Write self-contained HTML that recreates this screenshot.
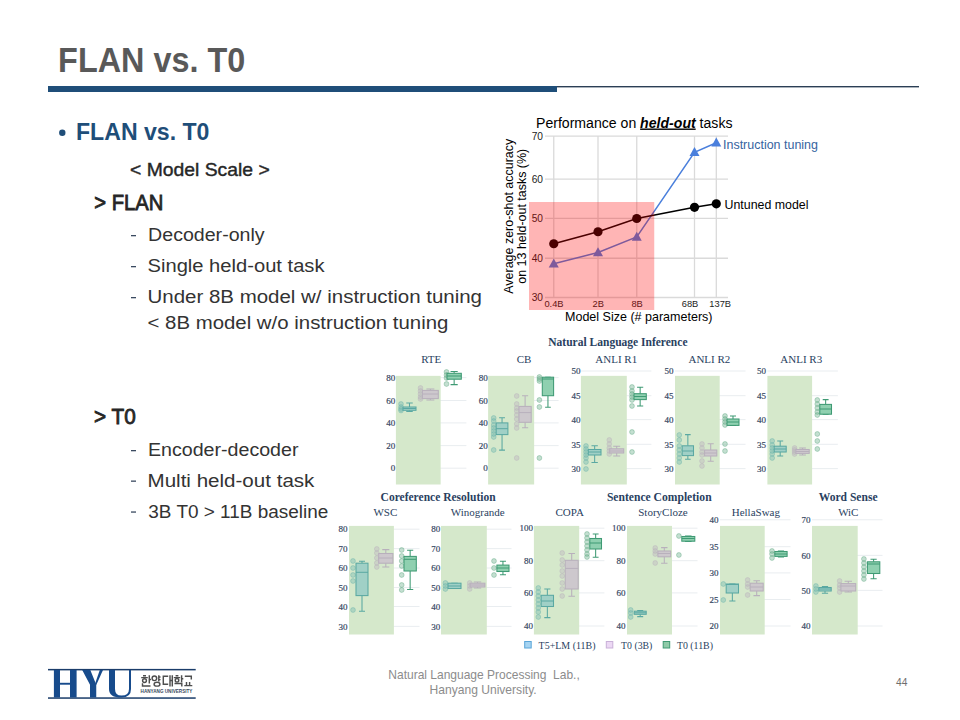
<!DOCTYPE html>
<html><head><meta charset="utf-8">
<style>
html,body{margin:0;padding:0;background:#fff;}
body{width:960px;height:720px;overflow:hidden;position:relative;}
svg{position:absolute;left:0;top:0;}
.s{font-family:"Liberation Sans",sans-serif;}
.r{font-family:"Liberation Serif",serif;}
</style></head><body>
<svg width="960" height="720" viewBox="0 0 960 720">
<!-- header -->
<!-- LEFT -->
<text class="s" x="58.10" y="71.7" font-size="35.94" font-weight="bold" fill="#595959" textLength="187.20" lengthAdjust="spacingAndGlyphs">FLAN vs. T0</text>
<text class="s" x="76.00" y="139.8" font-size="24.69" font-weight="bold" fill="#1f4e79" textLength="133.45" lengthAdjust="spacingAndGlyphs">FLAN vs. T0</text>
<text class="s" x="130.10" y="175.7" font-size="18.60" font-weight="normal" fill="#262626" stroke="#262626" stroke-width="0.4" textLength="139.60" lengthAdjust="spacingAndGlyphs">&lt; Model Scale &gt;</text>
<text class="s" x="94.30" y="209.8" font-size="22.60" font-weight="normal" fill="#262626" stroke="#262626" stroke-width="0.85" textLength="69.10" lengthAdjust="spacingAndGlyphs">&gt; FLAN</text>
<text class="s" x="148.10" y="240.7" font-size="18.90" font-weight="normal" fill="#333" textLength="116.50" lengthAdjust="spacingAndGlyphs">Decoder-only</text>
<text class="s" x="147.50" y="271.9" font-size="18.90" font-weight="normal" fill="#333" textLength="177.00" lengthAdjust="spacingAndGlyphs">Single held-out task</text>
<text class="s" x="147.50" y="302.75" font-size="18.90" font-weight="normal" fill="#333" textLength="334.50" lengthAdjust="spacingAndGlyphs">Under 8B model w/ instruction tuning</text>
<text class="s" x="147.50" y="328.75" font-size="18.90" font-weight="normal" fill="#333" textLength="300.90" lengthAdjust="spacingAndGlyphs">&lt; 8B model w/o instruction tuning</text>
<text class="s" x="94.10" y="423.75" font-size="22.60" font-weight="normal" fill="#262626" stroke="#262626" stroke-width="0.85" textLength="41.70" lengthAdjust="spacingAndGlyphs">&gt; T0</text>
<text class="s" x="147.90" y="455.6" font-size="18.90" font-weight="normal" fill="#333" textLength="150.60" lengthAdjust="spacingAndGlyphs">Encoder-decoder</text>
<text class="s" x="147.50" y="486.5" font-size="18.90" font-weight="normal" fill="#333" textLength="166.90" lengthAdjust="spacingAndGlyphs">Multi held-out task</text>
<text class="s" x="148.30" y="517.5" font-size="18.90" font-weight="normal" fill="#333" textLength="180.00" lengthAdjust="spacingAndGlyphs">3B T0 &gt; 11B baseline</text>
<!-- /LEFT -->
<rect x="48" y="86" width="509" height="6" fill="#1f4e79"/>
<rect x="557" y="86" width="362" height="1.4" fill="#2b3f55"/>

<!-- bullets -->
<circle cx="62.3" cy="132.8" r="3.2" fill="#1f4e79"/>
<g fill="#3a4a60">
<rect x="131" y="235" width="5" height="1.3"/>
<rect x="131" y="266" width="5" height="1.3"/>
<rect x="131" y="297" width="5" height="1.3"/>
<rect x="131" y="450" width="5" height="1.3"/>
<rect x="131" y="480.5" width="5" height="1.3"/>
<rect x="131" y="511.4" width="5" height="1.3"/>
</g>


<!-- FLAN chart -->
<g stroke="#dadada" stroke-width="1.3" fill="none">
<path d="M545 136.1H728M545 179.2H728M545 218.3H728M545 258.25H728M545 297.5H728"/>
<path d="M553.75 136V297.5M598 136V297.5M636.75 136V297.5M694.5 136V297.5M716.3 136V297.5"/>
</g>
<g class="s" font-size="10.2" fill="#222" text-anchor="end">
<text x="543" y="139.5">70</text><text x="543" y="182.6">60</text><text x="543" y="221.7">50</text><text x="543" y="261.6">40</text><text x="543" y="300.9">30</text>
</g>
<g class="s" font-size="9.3" fill="#222" text-anchor="middle">
<text x="554" y="307.4">0.4B</text><text x="598.3" y="307.4">2B</text><text x="637.1" y="307.4">8B</text><text x="690" y="307.4">68B</text><text x="720.2" y="307.4">137B</text>
</g>
<polyline points="553.75,263.75 598,252.5 636.75,237 694.5,152.4 716.3,142.7" fill="none" stroke="#4a7fdc" stroke-width="1.5"/>
<polyline points="553.75,243.75 598,231.75 636.75,218.5 694.5,207.3 716.3,203.8" fill="none" stroke="#000" stroke-width="1.5"/>
<g fill="#4a7fdc">
<path d="M553.75 258.5l5 9h-10z"/><path d="M598 247.2l5 9h-10z"/><path d="M636.75 231.7l5 9h-10z"/><path d="M694.5 147.1l5 9h-10z"/><path d="M716.3 137.4l5 9h-10z"/>
</g>
<g fill="#000">
<circle cx="553.75" cy="243.75" r="4.6"/><circle cx="598" cy="231.75" r="4.6"/><circle cx="636.75" cy="218.5" r="4.6"/><circle cx="694.5" cy="207.3" r="4.6"/><circle cx="716.3" cy="203.8" r="4.6"/>
</g>
<rect x="529" y="202" width="125.25" height="108" fill="rgb(255,0,0)" fill-opacity="0.29"/>
<text class="s" x="536" y="127.5" font-size="14" fill="#000" textLength="196.5" lengthAdjust="spacingAndGlyphs">Performance on <tspan font-weight="bold" font-style="italic" text-decoration="underline">held-out</tspan> tasks</text>
<text class="s" x="723" y="148.9" font-size="12.2" fill="#36649f" textLength="95" lengthAdjust="spacingAndGlyphs">Instruction tuning</text>
<text class="s" x="724.5" y="209.1" font-size="12.2" fill="#000" textLength="84" lengthAdjust="spacingAndGlyphs">Untuned model</text>
<text class="s" x="565" y="321.25" font-size="12.2" fill="#000" textLength="147.5" lengthAdjust="spacingAndGlyphs">Model Size (# parameters)</text>
<g class="s" font-size="12.2" fill="#000" text-anchor="middle">
<text transform="translate(512.6,216.25) rotate(-90)" font-size="12.9" textLength="155" lengthAdjust="spacingAndGlyphs">Average zero-shot accuracy</text>
<text transform="translate(526.4,216.25) rotate(-90)" font-size="12.6" textLength="135" lengthAdjust="spacingAndGlyphs">on 13 held-out tasks (%)</text>
</g>

<!-- T0 -->
<path d="M395.9 377.6H466.4M395.9 400.5H466.4M395.9 422.9H466.4M395.9 445.6H466.4M395.9 468.2H466.4" stroke="#e6ebee" stroke-width="0.9" fill="none"/>
<rect x="395.9" y="375.85" width="44.75" height="108.65" fill="#d5e8cb"/>
<path d="M488.1 377.6H558.6M488.1 400.5H558.6M488.1 422.9H558.6M488.1 445.6H558.6M488.1 468.2H558.6" stroke="#e6ebee" stroke-width="0.9" fill="none"/>
<rect x="488.1" y="375.85" width="46.05" height="108.65" fill="#d5e8cb"/>
<path d="M580.9 371H651.4M580.9 395.7H651.4M580.9 419.6H651.4M580.9 444.3H651.4M580.9 468.6H651.4" stroke="#e6ebee" stroke-width="0.9" fill="none"/>
<rect x="580.9" y="375.85" width="45.90" height="108.65" fill="#d5e8cb"/>
<path d="M675 371H745.5M675 395.7H745.5M675 419.6H745.5M675 444.3H745.5M675 468.6H745.5" stroke="#e6ebee" stroke-width="0.9" fill="none"/>
<rect x="675" y="375.85" width="44.70" height="108.65" fill="#d5e8cb"/>
<path d="M767.4 371H837.9M767.4 395.7H837.9M767.4 419.6H837.9M767.4 444.3H837.9M767.4 468.6H837.9" stroke="#e6ebee" stroke-width="0.9" fill="none"/>
<rect x="767.4" y="375.85" width="44.70" height="108.65" fill="#d5e8cb"/>
<path d="M349 529.2H419.5M349 548.6H419.5M349 568H419.5M349 587.5H419.5M349 606.5H419.5M349 626.4H419.5" stroke="#e6ebee" stroke-width="0.9" fill="none"/>
<rect x="349" y="525.9" width="44.90" height="108.60" fill="#d5e8cb"/>
<path d="M441 529.2H511.5M441 548.6H511.5M441 568H511.5M441 587.5H511.5M441 606.5H511.5M441 626.4H511.5" stroke="#e6ebee" stroke-width="0.9" fill="none"/>
<rect x="441" y="525.9" width="45.80" height="108.60" fill="#d5e8cb"/>
<path d="M533.9 528.2H604.4M533.9 560.7H604.4M533.9 592.9H604.4M533.9 626H604.4" stroke="#e6ebee" stroke-width="0.9" fill="none"/>
<rect x="533.9" y="525.9" width="45.30" height="108.60" fill="#d5e8cb"/>
<path d="M627 528.2H697.5M627 560.7H697.5M627 592.9H697.5M627 626H697.5" stroke="#e6ebee" stroke-width="0.9" fill="none"/>
<rect x="627" y="525.9" width="45.00" height="108.60" fill="#d5e8cb"/>
<path d="M720 519.8H790.5M720 546.7H790.5M720 572.9H790.5M720 599.5H790.5M720 626H790.5" stroke="#e6ebee" stroke-width="0.9" fill="none"/>
<rect x="720" y="525.9" width="44.70" height="108.60" fill="#d5e8cb"/>
<path d="M812 519.8H882.5M812 555.4H882.5M812 590.4H882.5M812 626H882.5" stroke="#e6ebee" stroke-width="0.9" fill="none"/>
<rect x="812" y="525.9" width="45.70" height="108.60" fill="#d5e8cb"/>
<g class="r" font-size="9" fill="#34465f" stroke="#34465f" stroke-width="0.18" text-anchor="end"><text x="395.2" y="380.8">80</text><text x="395.2" y="403.7">60</text><text x="395.2" y="426.1">40</text><text x="395.2" y="448.8">20</text><text x="395.2" y="471.4">0</text></g>
<text class="r" x="431.25" y="362.8" font-size="11" fill="#2a3f5f" text-anchor="middle">RTE</text>
<circle cx="401" cy="404" r="2.4" fill="#74b8ae" fill-opacity="0.4" stroke="#74b8ae" stroke-opacity="0.6" stroke-width="0.8"/>
<circle cx="401" cy="407" r="2.4" fill="#74b8ae" fill-opacity="0.4" stroke="#74b8ae" stroke-opacity="0.6" stroke-width="0.8"/>
<circle cx="401" cy="409" r="2.4" fill="#74b8ae" fill-opacity="0.4" stroke="#74b8ae" stroke-opacity="0.6" stroke-width="0.8"/>
<circle cx="401" cy="410.5" r="2.4" fill="#74b8ae" fill-opacity="0.4" stroke="#74b8ae" stroke-opacity="0.6" stroke-width="0.8"/>
<path d="M409.50 402.9V407M409.50 410.3V411.5M406.25 402.9H412.75M406.25 411.5H412.75" stroke="#5aa8a2" stroke-width="1.05" fill="none"/>
<rect x="403" y="407" width="13.00" height="3.30" fill="#a0d0c6" stroke="#5aa8a2" stroke-width="1.05"/>
<path d="M403 408.5H416" stroke="#5aa8a2" stroke-width="1" />
<circle cx="420.5" cy="388" r="2.4" fill="#bbb5bd" fill-opacity="0.4" stroke="#bbb5bd" stroke-opacity="0.6" stroke-width="0.8"/>
<circle cx="420.5" cy="391" r="2.4" fill="#bbb5bd" fill-opacity="0.4" stroke="#bbb5bd" stroke-opacity="0.6" stroke-width="0.8"/>
<circle cx="420.5" cy="394" r="2.4" fill="#bbb5bd" fill-opacity="0.4" stroke="#bbb5bd" stroke-opacity="0.6" stroke-width="0.8"/>
<circle cx="420.5" cy="397" r="2.4" fill="#bbb5bd" fill-opacity="0.4" stroke="#bbb5bd" stroke-opacity="0.6" stroke-width="0.8"/>
<circle cx="420.5" cy="399" r="2.4" fill="#bbb5bd" fill-opacity="0.4" stroke="#bbb5bd" stroke-opacity="0.6" stroke-width="0.8"/>
<path d="M430.35 389V390.4M430.35 398.6V400M426.38 389H434.33M426.38 400H434.33" stroke="#b8b0bc" stroke-width="1.05" fill="none"/>
<rect x="422.4" y="390.4" width="15.90" height="8.20" fill="#cdc8cd" stroke="#b8b0bc" stroke-width="1.05"/>
<path d="M422.4 394H438.3" stroke="#b8b0bc" stroke-width="1" />
<circle cx="446.5" cy="372" r="2.4" fill="#6cae8c" fill-opacity="0.4" stroke="#6cae8c" stroke-opacity="0.6" stroke-width="0.8"/>
<circle cx="446.5" cy="375" r="2.4" fill="#6cae8c" fill-opacity="0.4" stroke="#6cae8c" stroke-opacity="0.6" stroke-width="0.8"/>
<circle cx="446.5" cy="378" r="2.4" fill="#6cae8c" fill-opacity="0.4" stroke="#6cae8c" stroke-opacity="0.6" stroke-width="0.8"/>
<circle cx="446.5" cy="384" r="2.4" fill="#6cae8c" fill-opacity="0.4" stroke="#6cae8c" stroke-opacity="0.6" stroke-width="0.8"/>
<path d="M454.15 371.5V373.3M454.15 379.2V384.6M450.57 371.5H457.72M450.57 384.6H457.72" stroke="#3f9a74" stroke-width="1.05" fill="none"/>
<rect x="447" y="373.3" width="14.30" height="5.90" fill="#8fd0b0" stroke="#3f9a74" stroke-width="1.05"/>
<path d="M447 376H461.3" stroke="#3f9a74" stroke-width="1" />
<g class="r" font-size="9" fill="#34465f" stroke="#34465f" stroke-width="0.18" text-anchor="end"><text x="487.8" y="380.8">80</text><text x="487.8" y="403.7">60</text><text x="487.8" y="426.1">40</text><text x="487.8" y="448.8">20</text><text x="487.8" y="471.4">0</text></g>
<text class="r" x="524" y="362.8" font-size="11" fill="#2a3f5f" text-anchor="middle">CB</text>
<circle cx="493.7" cy="418" r="2.4" fill="#74b8ae" fill-opacity="0.4" stroke="#74b8ae" stroke-opacity="0.6" stroke-width="0.8"/>
<circle cx="493.7" cy="421" r="2.4" fill="#74b8ae" fill-opacity="0.4" stroke="#74b8ae" stroke-opacity="0.6" stroke-width="0.8"/>
<circle cx="493.7" cy="425" r="2.4" fill="#74b8ae" fill-opacity="0.4" stroke="#74b8ae" stroke-opacity="0.6" stroke-width="0.8"/>
<circle cx="493.7" cy="428" r="2.4" fill="#74b8ae" fill-opacity="0.4" stroke="#74b8ae" stroke-opacity="0.6" stroke-width="0.8"/>
<circle cx="493.7" cy="431" r="2.4" fill="#74b8ae" fill-opacity="0.4" stroke="#74b8ae" stroke-opacity="0.6" stroke-width="0.8"/>
<circle cx="493.7" cy="434" r="2.4" fill="#74b8ae" fill-opacity="0.4" stroke="#74b8ae" stroke-opacity="0.6" stroke-width="0.8"/>
<circle cx="493.7" cy="437" r="2.4" fill="#74b8ae" fill-opacity="0.4" stroke="#74b8ae" stroke-opacity="0.6" stroke-width="0.8"/>
<circle cx="493.7" cy="450" r="2.4" fill="#74b8ae" fill-opacity="0.4" stroke="#74b8ae" stroke-opacity="0.6" stroke-width="0.8"/>
<path d="M502.05 417.7V422.9M502.05 434.6V450.1M499.12 417.7H504.97M499.12 450.1H504.97" stroke="#5aa8a2" stroke-width="1.05" fill="none"/>
<rect x="496.2" y="422.9" width="11.70" height="11.70" fill="#a0d0c6" stroke="#5aa8a2" stroke-width="1.05"/>
<path d="M496.2 428.7H507.9" stroke="#5aa8a2" stroke-width="1" />
<circle cx="516.7" cy="396" r="2.4" fill="#bbb5bd" fill-opacity="0.4" stroke="#bbb5bd" stroke-opacity="0.6" stroke-width="0.8"/>
<circle cx="516.7" cy="404" r="2.4" fill="#bbb5bd" fill-opacity="0.4" stroke="#bbb5bd" stroke-opacity="0.6" stroke-width="0.8"/>
<circle cx="516.7" cy="408" r="2.4" fill="#bbb5bd" fill-opacity="0.4" stroke="#bbb5bd" stroke-opacity="0.6" stroke-width="0.8"/>
<circle cx="516.7" cy="411" r="2.4" fill="#bbb5bd" fill-opacity="0.4" stroke="#bbb5bd" stroke-opacity="0.6" stroke-width="0.8"/>
<circle cx="516.7" cy="415" r="2.4" fill="#bbb5bd" fill-opacity="0.4" stroke="#bbb5bd" stroke-opacity="0.6" stroke-width="0.8"/>
<circle cx="516.7" cy="419" r="2.4" fill="#bbb5bd" fill-opacity="0.4" stroke="#bbb5bd" stroke-opacity="0.6" stroke-width="0.8"/>
<circle cx="516.7" cy="424" r="2.4" fill="#bbb5bd" fill-opacity="0.4" stroke="#bbb5bd" stroke-opacity="0.6" stroke-width="0.8"/>
<circle cx="516.7" cy="428" r="2.4" fill="#bbb5bd" fill-opacity="0.4" stroke="#bbb5bd" stroke-opacity="0.6" stroke-width="0.8"/>
<circle cx="516.7" cy="458" r="2.4" fill="#bbb5bd" fill-opacity="0.4" stroke="#bbb5bd" stroke-opacity="0.6" stroke-width="0.8"/>
<path d="M525.10 395.7V406.4M525.10 422.3V427.8M522.05 395.7H528.15M522.05 427.8H528.15" stroke="#b8b0bc" stroke-width="1.05" fill="none"/>
<rect x="519" y="406.4" width="12.20" height="15.90" fill="#cdc8cd" stroke="#b8b0bc" stroke-width="1.05"/>
<path d="M519 412.6H531.2" stroke="#b8b0bc" stroke-width="1" />
<circle cx="539.4" cy="377" r="2.4" fill="#6cae8c" fill-opacity="0.4" stroke="#6cae8c" stroke-opacity="0.6" stroke-width="0.8"/>
<circle cx="539.4" cy="379" r="2.4" fill="#6cae8c" fill-opacity="0.4" stroke="#6cae8c" stroke-opacity="0.6" stroke-width="0.8"/>
<circle cx="539.4" cy="381" r="2.4" fill="#6cae8c" fill-opacity="0.4" stroke="#6cae8c" stroke-opacity="0.6" stroke-width="0.8"/>
<circle cx="539.4" cy="400" r="2.4" fill="#6cae8c" fill-opacity="0.4" stroke="#6cae8c" stroke-opacity="0.6" stroke-width="0.8"/>
<circle cx="539.4" cy="407" r="2.4" fill="#6cae8c" fill-opacity="0.4" stroke="#6cae8c" stroke-opacity="0.6" stroke-width="0.8"/>
<circle cx="539.4" cy="458" r="2.4" fill="#6cae8c" fill-opacity="0.4" stroke="#6cae8c" stroke-opacity="0.6" stroke-width="0.8"/>
<path d="M547.95 377.2V377.2M547.95 395.7V407.3M545.12 377.2H550.78M545.12 407.3H550.78" stroke="#3f9a74" stroke-width="1.05" fill="none"/>
<rect x="542.3" y="377.2" width="11.30" height="18.50" fill="#8fd0b0" stroke="#3f9a74" stroke-width="1.05"/>
<path d="M542.3 379H553.6" stroke="#3f9a74" stroke-width="1" />
<g class="r" font-size="9" fill="#34465f" stroke="#34465f" stroke-width="0.18" text-anchor="end"><text x="580.6" y="374.2">50</text><text x="580.6" y="398.9">45</text><text x="580.6" y="422.8">40</text><text x="580.6" y="447.5">35</text><text x="580.6" y="471.8">30</text></g>
<text class="r" x="616.25" y="362.8" font-size="11" fill="#2a3f5f" text-anchor="middle">ANLI R1</text>
<circle cx="586" cy="446" r="2.4" fill="#74b8ae" fill-opacity="0.4" stroke="#74b8ae" stroke-opacity="0.6" stroke-width="0.8"/>
<circle cx="586" cy="449" r="2.4" fill="#74b8ae" fill-opacity="0.4" stroke="#74b8ae" stroke-opacity="0.6" stroke-width="0.8"/>
<circle cx="586" cy="452" r="2.4" fill="#74b8ae" fill-opacity="0.4" stroke="#74b8ae" stroke-opacity="0.6" stroke-width="0.8"/>
<circle cx="586" cy="455" r="2.4" fill="#74b8ae" fill-opacity="0.4" stroke="#74b8ae" stroke-opacity="0.6" stroke-width="0.8"/>
<circle cx="586" cy="458" r="2.4" fill="#74b8ae" fill-opacity="0.4" stroke="#74b8ae" stroke-opacity="0.6" stroke-width="0.8"/>
<circle cx="586" cy="462" r="2.4" fill="#74b8ae" fill-opacity="0.4" stroke="#74b8ae" stroke-opacity="0.6" stroke-width="0.8"/>
<circle cx="586" cy="469" r="2.4" fill="#74b8ae" fill-opacity="0.4" stroke="#74b8ae" stroke-opacity="0.6" stroke-width="0.8"/>
<path d="M594.65 445.8V449.5M594.65 455V462.4M591.47 445.8H597.83M591.47 462.4H597.83" stroke="#5aa8a2" stroke-width="1.05" fill="none"/>
<rect x="588.3" y="449.5" width="12.70" height="5.50" fill="#a0d0c6" stroke="#5aa8a2" stroke-width="1.05"/>
<path d="M588.3 452H601" stroke="#5aa8a2" stroke-width="1" />
<circle cx="609.3" cy="440" r="2.4" fill="#bbb5bd" fill-opacity="0.4" stroke="#bbb5bd" stroke-opacity="0.6" stroke-width="0.8"/>
<circle cx="609.3" cy="444" r="2.4" fill="#bbb5bd" fill-opacity="0.4" stroke="#bbb5bd" stroke-opacity="0.6" stroke-width="0.8"/>
<circle cx="609.3" cy="448" r="2.4" fill="#bbb5bd" fill-opacity="0.4" stroke="#bbb5bd" stroke-opacity="0.6" stroke-width="0.8"/>
<circle cx="609.3" cy="451" r="2.4" fill="#bbb5bd" fill-opacity="0.4" stroke="#bbb5bd" stroke-opacity="0.6" stroke-width="0.8"/>
<circle cx="609.3" cy="454" r="2.4" fill="#bbb5bd" fill-opacity="0.4" stroke="#bbb5bd" stroke-opacity="0.6" stroke-width="0.8"/>
<path d="M616.70 446.2V448.8M616.70 453V456M613.20 446.2H620.20M613.20 456H620.20" stroke="#b8b0bc" stroke-width="1.05" fill="none"/>
<rect x="609.7" y="448.8" width="14.00" height="4.20" fill="#cdc8cd" stroke="#b8b0bc" stroke-width="1.05"/>
<path d="M609.7 451H623.7" stroke="#b8b0bc" stroke-width="1" />
<circle cx="632" cy="387" r="2.4" fill="#6cae8c" fill-opacity="0.4" stroke="#6cae8c" stroke-opacity="0.6" stroke-width="0.8"/>
<circle cx="632" cy="391" r="2.4" fill="#6cae8c" fill-opacity="0.4" stroke="#6cae8c" stroke-opacity="0.6" stroke-width="0.8"/>
<circle cx="632" cy="394" r="2.4" fill="#6cae8c" fill-opacity="0.4" stroke="#6cae8c" stroke-opacity="0.6" stroke-width="0.8"/>
<circle cx="632" cy="397" r="2.4" fill="#6cae8c" fill-opacity="0.4" stroke="#6cae8c" stroke-opacity="0.6" stroke-width="0.8"/>
<circle cx="632" cy="400" r="2.4" fill="#6cae8c" fill-opacity="0.4" stroke="#6cae8c" stroke-opacity="0.6" stroke-width="0.8"/>
<circle cx="632" cy="406" r="2.4" fill="#6cae8c" fill-opacity="0.4" stroke="#6cae8c" stroke-opacity="0.6" stroke-width="0.8"/>
<circle cx="632" cy="432" r="2.4" fill="#6cae8c" fill-opacity="0.4" stroke="#6cae8c" stroke-opacity="0.6" stroke-width="0.8"/>
<circle cx="632" cy="452" r="2.4" fill="#6cae8c" fill-opacity="0.4" stroke="#6cae8c" stroke-opacity="0.6" stroke-width="0.8"/>
<path d="M640.15 387.3V393.7M640.15 399.6V406M637.08 387.3H643.22M637.08 406H643.22" stroke="#3f9a74" stroke-width="1.05" fill="none"/>
<rect x="634" y="393.7" width="12.30" height="5.90" fill="#8fd0b0" stroke="#3f9a74" stroke-width="1.05"/>
<path d="M634 396.5H646.3" stroke="#3f9a74" stroke-width="1" />
<g class="r" font-size="9" fill="#34465f" stroke="#34465f" stroke-width="0.18" text-anchor="end"><text x="673.5" y="374.2">50</text><text x="673.5" y="398.9">45</text><text x="673.5" y="422.8">40</text><text x="673.5" y="447.5">35</text><text x="673.5" y="471.8">30</text></g>
<text class="r" x="709.4" y="362.8" font-size="11" fill="#2a3f5f" text-anchor="middle">ANLI R2</text>
<circle cx="679.3" cy="435" r="2.4" fill="#74b8ae" fill-opacity="0.4" stroke="#74b8ae" stroke-opacity="0.6" stroke-width="0.8"/>
<circle cx="679.3" cy="440" r="2.4" fill="#74b8ae" fill-opacity="0.4" stroke="#74b8ae" stroke-opacity="0.6" stroke-width="0.8"/>
<circle cx="679.3" cy="446" r="2.4" fill="#74b8ae" fill-opacity="0.4" stroke="#74b8ae" stroke-opacity="0.6" stroke-width="0.8"/>
<circle cx="679.3" cy="450" r="2.4" fill="#74b8ae" fill-opacity="0.4" stroke="#74b8ae" stroke-opacity="0.6" stroke-width="0.8"/>
<circle cx="679.3" cy="454" r="2.4" fill="#74b8ae" fill-opacity="0.4" stroke="#74b8ae" stroke-opacity="0.6" stroke-width="0.8"/>
<circle cx="679.3" cy="458" r="2.4" fill="#74b8ae" fill-opacity="0.4" stroke="#74b8ae" stroke-opacity="0.6" stroke-width="0.8"/>
<circle cx="679.3" cy="462" r="2.4" fill="#74b8ae" fill-opacity="0.4" stroke="#74b8ae" stroke-opacity="0.6" stroke-width="0.8"/>
<path d="M687.85 434.6V445.8M687.85 455.6V459.3M685.03 434.6H690.67M685.03 459.3H690.67" stroke="#5aa8a2" stroke-width="1.05" fill="none"/>
<rect x="682.2" y="445.8" width="11.30" height="9.80" fill="#a0d0c6" stroke="#5aa8a2" stroke-width="1.05"/>
<path d="M682.2 451H693.5" stroke="#5aa8a2" stroke-width="1" />
<circle cx="702" cy="444" r="2.4" fill="#bbb5bd" fill-opacity="0.4" stroke="#bbb5bd" stroke-opacity="0.6" stroke-width="0.8"/>
<circle cx="702" cy="448" r="2.4" fill="#bbb5bd" fill-opacity="0.4" stroke="#bbb5bd" stroke-opacity="0.6" stroke-width="0.8"/>
<circle cx="702" cy="452" r="2.4" fill="#bbb5bd" fill-opacity="0.4" stroke="#bbb5bd" stroke-opacity="0.6" stroke-width="0.8"/>
<circle cx="702" cy="455" r="2.4" fill="#bbb5bd" fill-opacity="0.4" stroke="#bbb5bd" stroke-opacity="0.6" stroke-width="0.8"/>
<circle cx="702" cy="461" r="2.4" fill="#bbb5bd" fill-opacity="0.4" stroke="#bbb5bd" stroke-opacity="0.6" stroke-width="0.8"/>
<circle cx="702" cy="466" r="2.4" fill="#bbb5bd" fill-opacity="0.4" stroke="#bbb5bd" stroke-opacity="0.6" stroke-width="0.8"/>
<path d="M710.70 443.7V450M710.70 456V461.2M707.65 443.7H713.75M707.65 461.2H713.75" stroke="#b8b0bc" stroke-width="1.05" fill="none"/>
<rect x="704.6" y="450" width="12.20" height="6.00" fill="#cdc8cd" stroke="#b8b0bc" stroke-width="1.05"/>
<path d="M704.6 453H716.8" stroke="#b8b0bc" stroke-width="1" />
<circle cx="725" cy="416" r="2.4" fill="#6cae8c" fill-opacity="0.4" stroke="#6cae8c" stroke-opacity="0.6" stroke-width="0.8"/>
<circle cx="725" cy="419" r="2.4" fill="#6cae8c" fill-opacity="0.4" stroke="#6cae8c" stroke-opacity="0.6" stroke-width="0.8"/>
<circle cx="725" cy="422" r="2.4" fill="#6cae8c" fill-opacity="0.4" stroke="#6cae8c" stroke-opacity="0.6" stroke-width="0.8"/>
<circle cx="725" cy="425" r="2.4" fill="#6cae8c" fill-opacity="0.4" stroke="#6cae8c" stroke-opacity="0.6" stroke-width="0.8"/>
<circle cx="725" cy="444" r="2.4" fill="#6cae8c" fill-opacity="0.4" stroke="#6cae8c" stroke-opacity="0.6" stroke-width="0.8"/>
<circle cx="725" cy="451" r="2.4" fill="#6cae8c" fill-opacity="0.4" stroke="#6cae8c" stroke-opacity="0.6" stroke-width="0.8"/>
<path d="M733.00 416V419M733.00 425.4V425.4M730.00 416H736.00M730.00 425.4H736.00" stroke="#3f9a74" stroke-width="1.05" fill="none"/>
<rect x="727" y="419" width="12.00" height="6.40" fill="#8fd0b0" stroke="#3f9a74" stroke-width="1.05"/>
<path d="M727 422H739" stroke="#3f9a74" stroke-width="1" />
<g class="r" font-size="9" fill="#34465f" stroke="#34465f" stroke-width="0.18" text-anchor="end"><text x="766" y="374.2">50</text><text x="766" y="398.9">45</text><text x="766" y="422.8">40</text><text x="766" y="447.5">35</text><text x="766" y="471.8">30</text></g>
<text class="r" x="801.25" y="362.8" font-size="11" fill="#2a3f5f" text-anchor="middle">ANLI R3</text>
<circle cx="772.2" cy="441" r="2.4" fill="#74b8ae" fill-opacity="0.4" stroke="#74b8ae" stroke-opacity="0.6" stroke-width="0.8"/>
<circle cx="772.2" cy="445" r="2.4" fill="#74b8ae" fill-opacity="0.4" stroke="#74b8ae" stroke-opacity="0.6" stroke-width="0.8"/>
<circle cx="772.2" cy="448" r="2.4" fill="#74b8ae" fill-opacity="0.4" stroke="#74b8ae" stroke-opacity="0.6" stroke-width="0.8"/>
<circle cx="772.2" cy="451" r="2.4" fill="#74b8ae" fill-opacity="0.4" stroke="#74b8ae" stroke-opacity="0.6" stroke-width="0.8"/>
<circle cx="772.2" cy="454" r="2.4" fill="#74b8ae" fill-opacity="0.4" stroke="#74b8ae" stroke-opacity="0.6" stroke-width="0.8"/>
<circle cx="772.2" cy="458" r="2.4" fill="#74b8ae" fill-opacity="0.4" stroke="#74b8ae" stroke-opacity="0.6" stroke-width="0.8"/>
<path d="M780.20 441V446.2M780.20 452V456M777.20 441H783.20M777.20 456H783.20" stroke="#5aa8a2" stroke-width="1.05" fill="none"/>
<rect x="774.2" y="446.2" width="12.00" height="5.80" fill="#a0d0c6" stroke="#5aa8a2" stroke-width="1.05"/>
<path d="M774.2 449H786.2" stroke="#5aa8a2" stroke-width="1" />
<circle cx="794.6" cy="448" r="2.4" fill="#bbb5bd" fill-opacity="0.4" stroke="#bbb5bd" stroke-opacity="0.6" stroke-width="0.8"/>
<circle cx="794.6" cy="450" r="2.4" fill="#bbb5bd" fill-opacity="0.4" stroke="#bbb5bd" stroke-opacity="0.6" stroke-width="0.8"/>
<circle cx="794.6" cy="452" r="2.4" fill="#bbb5bd" fill-opacity="0.4" stroke="#bbb5bd" stroke-opacity="0.6" stroke-width="0.8"/>
<circle cx="794.6" cy="454" r="2.4" fill="#bbb5bd" fill-opacity="0.4" stroke="#bbb5bd" stroke-opacity="0.6" stroke-width="0.8"/>
<path d="M802.55 448V449.5M802.55 453.4V455M799.22 448H805.88M799.22 455H805.88" stroke="#b8b0bc" stroke-width="1.05" fill="none"/>
<rect x="795.9" y="449.5" width="13.30" height="3.90" fill="#cdc8cd" stroke="#b8b0bc" stroke-width="1.05"/>
<path d="M795.9 451.5H809.2" stroke="#b8b0bc" stroke-width="1" />
<circle cx="817.3" cy="400" r="2.4" fill="#6cae8c" fill-opacity="0.4" stroke="#6cae8c" stroke-opacity="0.6" stroke-width="0.8"/>
<circle cx="817.3" cy="404" r="2.4" fill="#6cae8c" fill-opacity="0.4" stroke="#6cae8c" stroke-opacity="0.6" stroke-width="0.8"/>
<circle cx="817.3" cy="408" r="2.4" fill="#6cae8c" fill-opacity="0.4" stroke="#6cae8c" stroke-opacity="0.6" stroke-width="0.8"/>
<circle cx="817.3" cy="412" r="2.4" fill="#6cae8c" fill-opacity="0.4" stroke="#6cae8c" stroke-opacity="0.6" stroke-width="0.8"/>
<circle cx="817.3" cy="415" r="2.4" fill="#6cae8c" fill-opacity="0.4" stroke="#6cae8c" stroke-opacity="0.6" stroke-width="0.8"/>
<circle cx="817.3" cy="434" r="2.4" fill="#6cae8c" fill-opacity="0.4" stroke="#6cae8c" stroke-opacity="0.6" stroke-width="0.8"/>
<circle cx="817.3" cy="441" r="2.4" fill="#6cae8c" fill-opacity="0.4" stroke="#6cae8c" stroke-opacity="0.6" stroke-width="0.8"/>
<circle cx="817.3" cy="449" r="2.4" fill="#6cae8c" fill-opacity="0.4" stroke="#6cae8c" stroke-opacity="0.6" stroke-width="0.8"/>
<path d="M825.65 399.6V404.4M825.65 414.2V414.2M822.72 399.6H828.58M822.72 414.2H828.58" stroke="#3f9a74" stroke-width="1.05" fill="none"/>
<rect x="819.8" y="404.4" width="11.70" height="9.80" fill="#8fd0b0" stroke="#3f9a74" stroke-width="1.05"/>
<path d="M819.8 409H831.5" stroke="#3f9a74" stroke-width="1" />
<g class="r" font-size="9" fill="#34465f" stroke="#34465f" stroke-width="0.18" text-anchor="end"><text x="347.6" y="532.4">80</text><text x="347.6" y="551.8">70</text><text x="347.6" y="571.2">60</text><text x="347.6" y="590.7">50</text><text x="347.6" y="609.7">40</text><text x="347.6" y="629.6">30</text></g>
<text class="r" x="385.3" y="515.6" font-size="11" fill="#2a3f5f" text-anchor="middle">WSC</text>
<circle cx="353" cy="561" r="2.4" fill="#74b8ae" fill-opacity="0.4" stroke="#74b8ae" stroke-opacity="0.6" stroke-width="0.8"/>
<circle cx="353" cy="568" r="2.4" fill="#74b8ae" fill-opacity="0.4" stroke="#74b8ae" stroke-opacity="0.6" stroke-width="0.8"/>
<circle cx="353" cy="575" r="2.4" fill="#74b8ae" fill-opacity="0.4" stroke="#74b8ae" stroke-opacity="0.6" stroke-width="0.8"/>
<circle cx="353" cy="581" r="2.4" fill="#74b8ae" fill-opacity="0.4" stroke="#74b8ae" stroke-opacity="0.6" stroke-width="0.8"/>
<circle cx="353" cy="610" r="2.4" fill="#74b8ae" fill-opacity="0.4" stroke="#74b8ae" stroke-opacity="0.6" stroke-width="0.8"/>
<path d="M362.00 561.2V563.2M362.00 595.6V611.2M359.00 561.2H365.00M359.00 611.2H365.00" stroke="#5aa8a2" stroke-width="1.05" fill="none"/>
<rect x="356" y="563.2" width="12.00" height="32.40" fill="#a0d0c6" stroke="#5aa8a2" stroke-width="1.05"/>
<path d="M356 572.3H368" stroke="#5aa8a2" stroke-width="1" />
<circle cx="376.8" cy="549" r="2.4" fill="#bbb5bd" fill-opacity="0.4" stroke="#bbb5bd" stroke-opacity="0.6" stroke-width="0.8"/>
<circle cx="376.8" cy="553" r="2.4" fill="#bbb5bd" fill-opacity="0.4" stroke="#bbb5bd" stroke-opacity="0.6" stroke-width="0.8"/>
<circle cx="376.8" cy="558" r="2.4" fill="#bbb5bd" fill-opacity="0.4" stroke="#bbb5bd" stroke-opacity="0.6" stroke-width="0.8"/>
<circle cx="376.8" cy="563" r="2.4" fill="#bbb5bd" fill-opacity="0.4" stroke="#bbb5bd" stroke-opacity="0.6" stroke-width="0.8"/>
<circle cx="376.8" cy="567" r="2.4" fill="#bbb5bd" fill-opacity="0.4" stroke="#bbb5bd" stroke-opacity="0.6" stroke-width="0.8"/>
<path d="M385.80 549.6V553.5M385.80 563.2V567M382.25 549.6H389.35M382.25 567H389.35" stroke="#b8b0bc" stroke-width="1.05" fill="none"/>
<rect x="378.7" y="553.5" width="14.20" height="9.70" fill="#cdc8cd" stroke="#b8b0bc" stroke-width="1.05"/>
<path d="M378.7 558H392.9" stroke="#b8b0bc" stroke-width="1" />
<circle cx="401.7" cy="550" r="2.4" fill="#6cae8c" fill-opacity="0.4" stroke="#6cae8c" stroke-opacity="0.6" stroke-width="0.8"/>
<circle cx="401.7" cy="556" r="2.4" fill="#6cae8c" fill-opacity="0.4" stroke="#6cae8c" stroke-opacity="0.6" stroke-width="0.8"/>
<circle cx="401.7" cy="561" r="2.4" fill="#6cae8c" fill-opacity="0.4" stroke="#6cae8c" stroke-opacity="0.6" stroke-width="0.8"/>
<circle cx="401.7" cy="566" r="2.4" fill="#6cae8c" fill-opacity="0.4" stroke="#6cae8c" stroke-opacity="0.6" stroke-width="0.8"/>
<circle cx="401.7" cy="575" r="2.4" fill="#6cae8c" fill-opacity="0.4" stroke="#6cae8c" stroke-opacity="0.6" stroke-width="0.8"/>
<circle cx="401.7" cy="585" r="2.4" fill="#6cae8c" fill-opacity="0.4" stroke="#6cae8c" stroke-opacity="0.6" stroke-width="0.8"/>
<circle cx="401.7" cy="590" r="2.4" fill="#6cae8c" fill-opacity="0.4" stroke="#6cae8c" stroke-opacity="0.6" stroke-width="0.8"/>
<path d="M410.15 550.2V556.4M410.15 571V589.4M407.07 550.2H413.22M407.07 589.4H413.22" stroke="#3f9a74" stroke-width="1.05" fill="none"/>
<rect x="404" y="556.4" width="12.30" height="14.60" fill="#8fd0b0" stroke="#3f9a74" stroke-width="1.05"/>
<path d="M404 559.3H416.3" stroke="#3f9a74" stroke-width="1" />
<g class="r" font-size="9" fill="#34465f" stroke="#34465f" stroke-width="0.18" text-anchor="end"><text x="440.2" y="532.4">80</text><text x="440.2" y="551.8">70</text><text x="440.2" y="571.2">60</text><text x="440.2" y="590.7">50</text><text x="440.2" y="609.7">40</text><text x="440.2" y="629.6">30</text></g>
<text class="r" x="477.75" y="515.6" font-size="11" fill="#2a3f5f" text-anchor="middle">Winogrande</text>
<circle cx="445.4" cy="583" r="2.4" fill="#74b8ae" fill-opacity="0.4" stroke="#74b8ae" stroke-opacity="0.6" stroke-width="0.8"/>
<circle cx="445.4" cy="586" r="2.4" fill="#74b8ae" fill-opacity="0.4" stroke="#74b8ae" stroke-opacity="0.6" stroke-width="0.8"/>
<circle cx="445.4" cy="589" r="2.4" fill="#74b8ae" fill-opacity="0.4" stroke="#74b8ae" stroke-opacity="0.6" stroke-width="0.8"/>
<path d="M454.50 583.2V583.2M454.50 588.5V588.5M451.25 583.2H457.75M451.25 588.5H457.75" stroke="#5aa8a2" stroke-width="1.05" fill="none"/>
<rect x="448" y="583.2" width="13.00" height="5.30" fill="#a0d0c6" stroke="#5aa8a2" stroke-width="1.05"/>
<path d="M448 586H461" stroke="#5aa8a2" stroke-width="1" />
<circle cx="469.7" cy="583" r="2.4" fill="#bbb5bd" fill-opacity="0.4" stroke="#bbb5bd" stroke-opacity="0.6" stroke-width="0.8"/>
<circle cx="469.7" cy="586" r="2.4" fill="#bbb5bd" fill-opacity="0.4" stroke="#bbb5bd" stroke-opacity="0.6" stroke-width="0.8"/>
<circle cx="469.7" cy="589" r="2.4" fill="#bbb5bd" fill-opacity="0.4" stroke="#bbb5bd" stroke-opacity="0.6" stroke-width="0.8"/>
<path d="M477.50 582V583.2M477.50 587V588M473.80 582H481.20M473.80 588H481.20" stroke="#b8b0bc" stroke-width="1.05" fill="none"/>
<rect x="470.1" y="583.2" width="14.80" height="3.80" fill="#cdc8cd" stroke="#b8b0bc" stroke-width="1.05"/>
<path d="M470.1 585H484.9" stroke="#b8b0bc" stroke-width="1" />
<circle cx="494" cy="561" r="2.4" fill="#6cae8c" fill-opacity="0.4" stroke="#6cae8c" stroke-opacity="0.6" stroke-width="0.8"/>
<circle cx="494" cy="568" r="2.4" fill="#6cae8c" fill-opacity="0.4" stroke="#6cae8c" stroke-opacity="0.6" stroke-width="0.8"/>
<circle cx="494" cy="575" r="2.4" fill="#6cae8c" fill-opacity="0.4" stroke="#6cae8c" stroke-opacity="0.6" stroke-width="0.8"/>
<path d="M502.95 561.2V565.1M502.95 571.5V574.8M499.92 561.2H505.98M499.92 574.8H505.98" stroke="#3f9a74" stroke-width="1.05" fill="none"/>
<rect x="496.9" y="565.1" width="12.10" height="6.40" fill="#8fd0b0" stroke="#3f9a74" stroke-width="1.05"/>
<path d="M496.9 568H509" stroke="#3f9a74" stroke-width="1" />
<g class="r" font-size="9" fill="#34465f" stroke="#34465f" stroke-width="0.18" text-anchor="end"><text x="532.9" y="531.4">100</text><text x="532.9" y="563.9">80</text><text x="532.9" y="596.1">60</text><text x="532.9" y="629.2">40</text></g>
<text class="r" x="569.7" y="515.6" font-size="11" fill="#2a3f5f" text-anchor="middle">COPA</text>
<circle cx="538.3" cy="588" r="2.4" fill="#74b8ae" fill-opacity="0.4" stroke="#74b8ae" stroke-opacity="0.6" stroke-width="0.8"/>
<circle cx="538.3" cy="592" r="2.4" fill="#74b8ae" fill-opacity="0.4" stroke="#74b8ae" stroke-opacity="0.6" stroke-width="0.8"/>
<circle cx="538.3" cy="596" r="2.4" fill="#74b8ae" fill-opacity="0.4" stroke="#74b8ae" stroke-opacity="0.6" stroke-width="0.8"/>
<circle cx="538.3" cy="600" r="2.4" fill="#74b8ae" fill-opacity="0.4" stroke="#74b8ae" stroke-opacity="0.6" stroke-width="0.8"/>
<circle cx="538.3" cy="604" r="2.4" fill="#74b8ae" fill-opacity="0.4" stroke="#74b8ae" stroke-opacity="0.6" stroke-width="0.8"/>
<circle cx="538.3" cy="608" r="2.4" fill="#74b8ae" fill-opacity="0.4" stroke="#74b8ae" stroke-opacity="0.6" stroke-width="0.8"/>
<circle cx="538.3" cy="612" r="2.4" fill="#74b8ae" fill-opacity="0.4" stroke="#74b8ae" stroke-opacity="0.6" stroke-width="0.8"/>
<circle cx="538.3" cy="617" r="2.4" fill="#74b8ae" fill-opacity="0.4" stroke="#74b8ae" stroke-opacity="0.6" stroke-width="0.8"/>
<path d="M547.35 589V595.3M547.35 606.5V617.6M544.28 589H550.42M544.28 617.6H550.42" stroke="#5aa8a2" stroke-width="1.05" fill="none"/>
<rect x="541.2" y="595.3" width="12.30" height="11.20" fill="#a0d0c6" stroke="#5aa8a2" stroke-width="1.05"/>
<path d="M541.2 601H553.5" stroke="#5aa8a2" stroke-width="1" />
<circle cx="562.2" cy="553" r="2.4" fill="#bbb5bd" fill-opacity="0.4" stroke="#bbb5bd" stroke-opacity="0.6" stroke-width="0.8"/>
<circle cx="562.2" cy="560" r="2.4" fill="#bbb5bd" fill-opacity="0.4" stroke="#bbb5bd" stroke-opacity="0.6" stroke-width="0.8"/>
<circle cx="562.2" cy="565" r="2.4" fill="#bbb5bd" fill-opacity="0.4" stroke="#bbb5bd" stroke-opacity="0.6" stroke-width="0.8"/>
<circle cx="562.2" cy="571" r="2.4" fill="#bbb5bd" fill-opacity="0.4" stroke="#bbb5bd" stroke-opacity="0.6" stroke-width="0.8"/>
<circle cx="562.2" cy="576" r="2.4" fill="#bbb5bd" fill-opacity="0.4" stroke="#bbb5bd" stroke-opacity="0.6" stroke-width="0.8"/>
<circle cx="562.2" cy="583" r="2.4" fill="#bbb5bd" fill-opacity="0.4" stroke="#bbb5bd" stroke-opacity="0.6" stroke-width="0.8"/>
<circle cx="562.2" cy="589" r="2.4" fill="#bbb5bd" fill-opacity="0.4" stroke="#bbb5bd" stroke-opacity="0.6" stroke-width="0.8"/>
<circle cx="562.2" cy="596" r="2.4" fill="#bbb5bd" fill-opacity="0.4" stroke="#bbb5bd" stroke-opacity="0.6" stroke-width="0.8"/>
<path d="M571.70 553.5V560.3M571.70 589V596.2M568.45 553.5H574.95M568.45 596.2H574.95" stroke="#b8b0bc" stroke-width="1.05" fill="none"/>
<rect x="565.2" y="560.3" width="13.00" height="28.70" fill="#cdc8cd" stroke="#b8b0bc" stroke-width="1.05"/>
<path d="M565.2 568.4H578.2" stroke="#b8b0bc" stroke-width="1" />
<circle cx="587" cy="534" r="2.4" fill="#6cae8c" fill-opacity="0.4" stroke="#6cae8c" stroke-opacity="0.6" stroke-width="0.8"/>
<circle cx="587" cy="538" r="2.4" fill="#6cae8c" fill-opacity="0.4" stroke="#6cae8c" stroke-opacity="0.6" stroke-width="0.8"/>
<circle cx="587" cy="542" r="2.4" fill="#6cae8c" fill-opacity="0.4" stroke="#6cae8c" stroke-opacity="0.6" stroke-width="0.8"/>
<circle cx="587" cy="546" r="2.4" fill="#6cae8c" fill-opacity="0.4" stroke="#6cae8c" stroke-opacity="0.6" stroke-width="0.8"/>
<circle cx="587" cy="550" r="2.4" fill="#6cae8c" fill-opacity="0.4" stroke="#6cae8c" stroke-opacity="0.6" stroke-width="0.8"/>
<circle cx="587" cy="554" r="2.4" fill="#6cae8c" fill-opacity="0.4" stroke="#6cae8c" stroke-opacity="0.6" stroke-width="0.8"/>
<circle cx="587" cy="557" r="2.4" fill="#6cae8c" fill-opacity="0.4" stroke="#6cae8c" stroke-opacity="0.6" stroke-width="0.8"/>
<path d="M595.65 534V538.5M595.65 549V557.3M592.72 534H598.58M592.72 557.3H598.58" stroke="#3f9a74" stroke-width="1.05" fill="none"/>
<rect x="589.8" y="538.5" width="11.70" height="10.50" fill="#8fd0b0" stroke="#3f9a74" stroke-width="1.05"/>
<path d="M589.8 543H601.5" stroke="#3f9a74" stroke-width="1" />
<g class="r" font-size="9" fill="#34465f" stroke="#34465f" stroke-width="0.18" text-anchor="end"><text x="625.4" y="531.4">100</text><text x="625.4" y="563.9">80</text><text x="625.4" y="596.1">60</text><text x="625.4" y="629.2">40</text></g>
<text class="r" x="663" y="515.6" font-size="11" fill="#2a3f5f" text-anchor="middle">StoryCloze</text>
<circle cx="630.7" cy="610" r="2.4" fill="#74b8ae" fill-opacity="0.4" stroke="#74b8ae" stroke-opacity="0.6" stroke-width="0.8"/>
<circle cx="630.7" cy="613" r="2.4" fill="#74b8ae" fill-opacity="0.4" stroke="#74b8ae" stroke-opacity="0.6" stroke-width="0.8"/>
<circle cx="630.7" cy="617" r="2.4" fill="#74b8ae" fill-opacity="0.4" stroke="#74b8ae" stroke-opacity="0.6" stroke-width="0.8"/>
<path d="M640.20 610.5V611.2M640.20 614.3V616.6M637.20 610.5H643.20M637.20 616.6H643.20" stroke="#5aa8a2" stroke-width="1.05" fill="none"/>
<rect x="634.2" y="611.2" width="12.00" height="3.10" fill="#a0d0c6" stroke="#5aa8a2" stroke-width="1.05"/>
<path d="M634.2 612.8H646.2" stroke="#5aa8a2" stroke-width="1" />
<circle cx="655.2" cy="548" r="2.4" fill="#bbb5bd" fill-opacity="0.4" stroke="#bbb5bd" stroke-opacity="0.6" stroke-width="0.8"/>
<circle cx="655.2" cy="551" r="2.4" fill="#bbb5bd" fill-opacity="0.4" stroke="#bbb5bd" stroke-opacity="0.6" stroke-width="0.8"/>
<circle cx="655.2" cy="554" r="2.4" fill="#bbb5bd" fill-opacity="0.4" stroke="#bbb5bd" stroke-opacity="0.6" stroke-width="0.8"/>
<circle cx="655.2" cy="563" r="2.4" fill="#bbb5bd" fill-opacity="0.4" stroke="#bbb5bd" stroke-opacity="0.6" stroke-width="0.8"/>
<path d="M664.30 547.6V551M664.30 556.8V563.2M661.10 547.6H667.50M661.10 563.2H667.50" stroke="#b8b0bc" stroke-width="1.05" fill="none"/>
<rect x="657.9" y="551" width="12.80" height="5.80" fill="#cdc8cd" stroke="#b8b0bc" stroke-width="1.05"/>
<path d="M657.9 553.5H670.7" stroke="#b8b0bc" stroke-width="1" />
<circle cx="678.9" cy="536" r="2.4" fill="#6cae8c" fill-opacity="0.4" stroke="#6cae8c" stroke-opacity="0.6" stroke-width="0.8"/>
<circle cx="678.9" cy="555" r="2.4" fill="#6cae8c" fill-opacity="0.4" stroke="#6cae8c" stroke-opacity="0.6" stroke-width="0.8"/>
<path d="M688.30 536V536.5M688.30 541.2V541.5M685.05 536H691.55M685.05 541.5H691.55" stroke="#3f9a74" stroke-width="1.05" fill="none"/>
<rect x="681.8" y="536.5" width="13.00" height="4.70" fill="#8fd0b0" stroke="#3f9a74" stroke-width="1.05"/>
<path d="M681.8 538.5H694.8" stroke="#3f9a74" stroke-width="1" />
<g class="r" font-size="9" fill="#34465f" stroke="#34465f" stroke-width="0.18" text-anchor="end"><text x="718.5" y="523.0">40</text><text x="718.5" y="549.9">35</text><text x="718.5" y="576.1">30</text><text x="718.5" y="602.7">25</text><text x="718.5" y="629.2">20</text></g>
<text class="r" x="755.85" y="515.6" font-size="11" fill="#2a3f5f" text-anchor="middle">HellaSwag</text>
<circle cx="723.3" cy="584" r="2.4" fill="#74b8ae" fill-opacity="0.4" stroke="#74b8ae" stroke-opacity="0.6" stroke-width="0.8"/>
<circle cx="723.3" cy="600" r="2.4" fill="#74b8ae" fill-opacity="0.4" stroke="#74b8ae" stroke-opacity="0.6" stroke-width="0.8"/>
<path d="M732.35 584V584M732.35 593V601M729.28 584H735.42M729.28 601H735.42" stroke="#5aa8a2" stroke-width="1.05" fill="none"/>
<rect x="726.2" y="584" width="12.30" height="9.00" fill="#a0d0c6" stroke="#5aa8a2" stroke-width="1.05"/>
<path d="M726.2 584.5H738.5" stroke="#5aa8a2" stroke-width="1" />
<circle cx="747.6" cy="580" r="2.4" fill="#bbb5bd" fill-opacity="0.4" stroke="#bbb5bd" stroke-opacity="0.6" stroke-width="0.8"/>
<circle cx="747.6" cy="584" r="2.4" fill="#bbb5bd" fill-opacity="0.4" stroke="#bbb5bd" stroke-opacity="0.6" stroke-width="0.8"/>
<circle cx="747.6" cy="587" r="2.4" fill="#bbb5bd" fill-opacity="0.4" stroke="#bbb5bd" stroke-opacity="0.6" stroke-width="0.8"/>
<circle cx="747.6" cy="595" r="2.4" fill="#bbb5bd" fill-opacity="0.4" stroke="#bbb5bd" stroke-opacity="0.6" stroke-width="0.8"/>
<path d="M756.70 580.7V583.2M756.70 591V595.6M753.45 580.7H759.95M753.45 595.6H759.95" stroke="#b8b0bc" stroke-width="1.05" fill="none"/>
<rect x="750.2" y="583.2" width="13.00" height="7.80" fill="#cdc8cd" stroke="#b8b0bc" stroke-width="1.05"/>
<path d="M750.2 587H763.2" stroke="#b8b0bc" stroke-width="1" />
<circle cx="772" cy="551" r="2.4" fill="#6cae8c" fill-opacity="0.4" stroke="#6cae8c" stroke-opacity="0.6" stroke-width="0.8"/>
<circle cx="772" cy="554" r="2.4" fill="#6cae8c" fill-opacity="0.4" stroke="#6cae8c" stroke-opacity="0.6" stroke-width="0.8"/>
<circle cx="772" cy="558" r="2.4" fill="#6cae8c" fill-opacity="0.4" stroke="#6cae8c" stroke-opacity="0.6" stroke-width="0.8"/>
<path d="M780.95 551V551.5M780.95 556.4V557M777.88 551H784.03M777.88 557H784.03" stroke="#3f9a74" stroke-width="1.05" fill="none"/>
<rect x="774.8" y="551.5" width="12.30" height="4.90" fill="#8fd0b0" stroke="#3f9a74" stroke-width="1.05"/>
<path d="M774.8 554H787.1" stroke="#3f9a74" stroke-width="1" />
<g class="r" font-size="9" fill="#34465f" stroke="#34465f" stroke-width="0.18" text-anchor="end"><text x="810.4" y="523.0">70</text><text x="810.4" y="558.6">60</text><text x="810.4" y="593.6">50</text><text x="810.4" y="629.2">40</text></g>
<text class="r" x="848.3" y="515.6" font-size="11" fill="#2a3f5f" text-anchor="middle">WiC</text>
<circle cx="815.9" cy="586" r="2.4" fill="#74b8ae" fill-opacity="0.4" stroke="#74b8ae" stroke-opacity="0.6" stroke-width="0.8"/>
<circle cx="815.9" cy="589" r="2.4" fill="#74b8ae" fill-opacity="0.4" stroke="#74b8ae" stroke-opacity="0.6" stroke-width="0.8"/>
<circle cx="815.9" cy="592" r="2.4" fill="#74b8ae" fill-opacity="0.4" stroke="#74b8ae" stroke-opacity="0.6" stroke-width="0.8"/>
<path d="M825.00 586.5V587.5M825.00 591V593.3M821.90 586.5H828.10M821.90 593.3H828.10" stroke="#5aa8a2" stroke-width="1.05" fill="none"/>
<rect x="818.8" y="587.5" width="12.40" height="3.50" fill="#a0d0c6" stroke="#5aa8a2" stroke-width="1.05"/>
<path d="M818.8 589H831.2" stroke="#5aa8a2" stroke-width="1" />
<circle cx="839.6" cy="581" r="2.4" fill="#bbb5bd" fill-opacity="0.4" stroke="#bbb5bd" stroke-opacity="0.6" stroke-width="0.8"/>
<circle cx="839.6" cy="585" r="2.4" fill="#bbb5bd" fill-opacity="0.4" stroke="#bbb5bd" stroke-opacity="0.6" stroke-width="0.8"/>
<circle cx="839.6" cy="588" r="2.4" fill="#bbb5bd" fill-opacity="0.4" stroke="#bbb5bd" stroke-opacity="0.6" stroke-width="0.8"/>
<circle cx="839.6" cy="592" r="2.4" fill="#bbb5bd" fill-opacity="0.4" stroke="#bbb5bd" stroke-opacity="0.6" stroke-width="0.8"/>
<path d="M848.30 581.3V583.6M848.30 591V592M844.60 581.3H852.00M844.60 592H852.00" stroke="#b8b0bc" stroke-width="1.05" fill="none"/>
<rect x="840.9" y="583.6" width="14.80" height="7.40" fill="#cdc8cd" stroke="#b8b0bc" stroke-width="1.05"/>
<path d="M840.9 586H855.7" stroke="#b8b0bc" stroke-width="1" />
<circle cx="863.9" cy="559" r="2.4" fill="#6cae8c" fill-opacity="0.4" stroke="#6cae8c" stroke-opacity="0.6" stroke-width="0.8"/>
<circle cx="863.9" cy="563" r="2.4" fill="#6cae8c" fill-opacity="0.4" stroke="#6cae8c" stroke-opacity="0.6" stroke-width="0.8"/>
<circle cx="863.9" cy="567" r="2.4" fill="#6cae8c" fill-opacity="0.4" stroke="#6cae8c" stroke-opacity="0.6" stroke-width="0.8"/>
<circle cx="863.9" cy="571" r="2.4" fill="#6cae8c" fill-opacity="0.4" stroke="#6cae8c" stroke-opacity="0.6" stroke-width="0.8"/>
<circle cx="863.9" cy="575" r="2.4" fill="#6cae8c" fill-opacity="0.4" stroke="#6cae8c" stroke-opacity="0.6" stroke-width="0.8"/>
<circle cx="863.9" cy="579" r="2.4" fill="#6cae8c" fill-opacity="0.4" stroke="#6cae8c" stroke-opacity="0.6" stroke-width="0.8"/>
<path d="M873.60 559.3V561.8M873.60 573.5V578.7M870.50 559.3H876.70M870.50 578.7H876.70" stroke="#3f9a74" stroke-width="1.05" fill="none"/>
<rect x="867.4" y="561.8" width="12.40" height="11.70" fill="#8fd0b0" stroke="#3f9a74" stroke-width="1.05"/>
<path d="M867.4 564H879.8" stroke="#3f9a74" stroke-width="1" />
<text class="r" x="548.3" y="345.7" font-size="12.5" font-weight="bold" fill="#2a3f5f" textLength="139.2" lengthAdjust="spacingAndGlyphs">Natural Language Inference</text>
<text class="r" x="380.6" y="500.6" font-size="12.5" font-weight="bold" fill="#2a3f5f" textLength="115.0" lengthAdjust="spacingAndGlyphs">Coreference Resolution</text>
<text class="r" x="606.9" y="500.6" font-size="12.5" font-weight="bold" fill="#2a3f5f" textLength="104.7" lengthAdjust="spacingAndGlyphs">Sentence Completion</text>
<text class="r" x="818.75" y="500.6" font-size="12.5" font-weight="bold" fill="#2a3f5f" textLength="58.8" lengthAdjust="spacingAndGlyphs">Word Sense</text>
<rect x="524.7" y="641.5" width="6.5" height="6.5" fill="#a6d4f2" stroke="#5aa5d8" stroke-width="1"/>
<text class="r" x="538.6" y="648.6" font-size="11" fill="#2a3f5f" textLength="56.9" lengthAdjust="spacingAndGlyphs">T5+LM (11B)</text>
<rect x="606.3" y="641.5" width="6.5" height="6.5" fill="#ecd8f4" stroke="#c9b0d8" stroke-width="1"/>
<text class="r" x="621.1" y="648.6" font-size="11" fill="#2a3f5f" textLength="31.3" lengthAdjust="spacingAndGlyphs">T0 (3B)</text>
<rect x="663.2" y="641.5" width="6.5" height="6.5" fill="#8fcaa8" stroke="#3f9a74" stroke-width="1"/>
<text class="r" x="676.9" y="648.6" font-size="11" fill="#2a3f5f" textLength="36.1" lengthAdjust="spacingAndGlyphs">T0 (11B)</text>
<!-- /T0 -->
<!-- logo -->
<g>
<rect x="48" y="668.9" width="147.7" height="1.5" fill="#1b3d6a"/>
<rect x="48" y="697.3" width="147.7" height="1.5" fill="#1b3d6a"/>
<g fill="#174b8c">
<rect x="53.9" y="670" width="6.1" height="27.5"/>
<rect x="70" y="670" width="6.6" height="27.5"/>
<rect x="60" y="682.8" width="10" height="1.9"/>
<path d="M82.2 670H90.3L96.25 684.75V697.5H90V684.75Z"/>
<path d="M99.8 670H103L96.25 684.9H94.6Z"/>
<path d="M109 670H115V689Q115 695.6 121.5 695.6Q129 695.6 129 689V670H131V689Q131 697.6 121.5 697.6Q109 697.6 109 689Z"/>
</g>
<g stroke="#4e4e4e" stroke-width="1.45" fill="none">
<!-- 한 -->
<path d="M143 675.8H146M141.2 677.6H147.8"/><circle cx="144.5" cy="680.6" r="1.9"/>
<path d="M149.3 675.3V683.5M149.3 679.5H151"/><path d="M142.5 683.2V685.9H150.5"/>
<!-- 양 -->
<circle cx="154.4" cy="678.3" r="2.3"/><path d="M158.8 675.3V681.5M158.8 677H160.5M158.8 679.6H160.5"/><ellipse cx="157" cy="684.2" rx="2.9" ry="1.9"/>
<!-- 대 -->
<path d="M168.2 676.3H163.3V684.3H168.2"/><path d="M170 675.3V686.4M172.3 675.3V686.4M170 680.5H172.3"/>
<!-- 학 -->
<path d="M175.6 675.8H178.4M173.8 677.6H180.2"/><circle cx="177" cy="680.3" r="1.8"/><path d="M181.6 675.3V682.5M181.6 678.8H183.3"/><path d="M174.5 683.4H181.8V686.4"/>
<!-- 교 -->
<path d="M184.8 676.2H191.3V679.5"/><path d="M186.5 682V685.3M189.6 682V685.3M184.3 685.6H192.3"/>
</g>
<text class="s" x="140.6" y="692.8" font-size="4.9" font-weight="bold" fill="#3a4a60" textLength="51.8" lengthAdjust="spacingAndGlyphs">HANYANG UNIVERSITY</text>
</g>
<!-- footer -->
<g class="s" font-size="11.9" fill="#8c8c8c">
<text x="388.3" y="678.6" textLength="191.5" lengthAdjust="spacingAndGlyphs">Natural Language Processing&#160; Lab.,</text>
<text x="429.5" y="694.4" textLength="107.2" lengthAdjust="spacingAndGlyphs">Hanyang University.</text>
</g>
<text class="s" x="896" y="685.6" font-size="10.2" fill="#6e6e6e">44</text>
</svg>
</body></html>
